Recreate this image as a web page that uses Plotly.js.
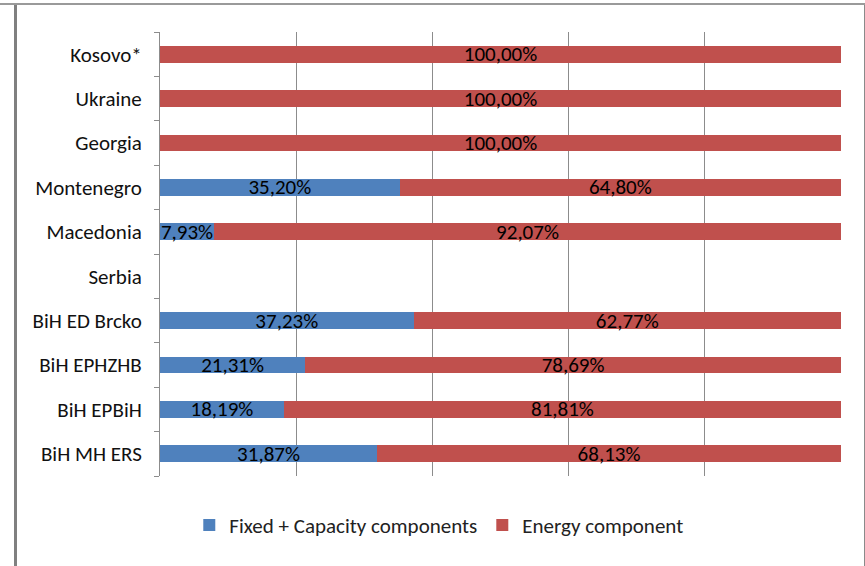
<!DOCTYPE html>
<html>
<head>
<meta charset="utf-8">
<script src="https://cdn.plot.ly/plotly-3.0.1.min.js"></script>
<style>
  html, body { margin: 0; padding: 0; background: #fff; }
  #wrap { position: relative; width: 865px; height: 566px; overflow: hidden; }
  #chart { width: 865px; height: 566px; }
  #frame { position: absolute; left: 14px; top: 5px; width: 847px; height: 600px;
           border-left: 3px solid #808080; border-right: 2px solid #8a8a8a;
           pointer-events: none; }
  #topline { position: absolute; left: 0; top: 3px; width: 865px; height: 2px; background: #9a9a9a; }
</style>
</head>
<body>
<div id="wrap">
  <div id="chart"></div>
  <div id="frame"></div>
  <div id="topline"></div>
</div>
<script>
// Categories (bottom to top)
var categories = ["BiH MH ERS", "BiH EPBiH", "BiH EPHZHB", "BiH ED Brcko", "Serbia",
                  "Macedonia", "Montenegro", "Georgia", "Ukraine", "Kosovo*"];
// Fixed + Capacity components (%)
var fixedValues = [31.87, 18.19, 21.31, 37.23, null, 7.93, 35.20, 0, 0, 0];
// Energy component (%)
var energyValues = [68.13, 81.81, 78.69, 62.77, null, 92.07, 64.80, 100, 100, 100];
var seriesNames = ["Fixed + Capacity components", "Energy component"];

function labels(vals) {
  return vals.map(function (v) {
    return (v === null || v === 0) ? "" : v.toFixed(2).replace(".", ",") + "%";
  });
}

var font = "Carlito, Lato, 'Open Sans', sans-serif";

var common = {
  type: "bar",
  orientation: "h",
  y: categories,
  textposition: "inside",
  insidetextanchor: "middle",
  constraintext: "none",
  textfont: { family: font, size: 21, color: "#000" },
  hoverinfo: "none",
  cliponaxis: false
};

var t1 = Object.assign({}, common, {
  name: seriesNames[0], x: fixedValues, text: labels(fixedValues),
  marker: { color: "#4F81BD" }
});
var t2 = Object.assign({}, common, {
  name: seriesNames[1], x: energyValues, text: labels(energyValues),
  marker: { color: "#C0504D" }
});

var layout = {
  width: 865, height: 566,
  margin: { l: 160, r: 24, t: 32, b: 90 },
  barmode: "stack",
  bargap: 0.62,
  separators: ",.",
  paper_bgcolor: "#fff",
  plot_bgcolor: "#fff",
  showlegend: true,
  legend: {
    orientation: "h", x: 0.043, xanchor: "left", y: -0.065, yanchor: "top",
    font: { family: font, size: 21, color: "#222" },
    traceorder: "normal", itemwidth: 30
  },
  xaxis: {
    range: [0, 100], dtick: 20, showgrid: true, gridcolor: "#8c8c8c", gridwidth: 1,
    showticklabels: false, zeroline: false, showline: false, ticks: "", fixedrange: true
  },
  yaxis: {
    type: "category", categoryorder: "array", categoryarray: categories,
    showline: true, linecolor: "#8c8c8c", linewidth: 1,
    ticks: "outside", tickson: "boundaries", ticklen: 5, tickcolor: "#8c8c8c",
    tickfont: { family: font, size: 21, color: "#111" },
    ticklabelstandoff: 13,
    showgrid: false, zeroline: false, fixedrange: true
  },
  font: { family: font }
};

Plotly.newPlot("chart", [t1, t2], layout, { displayModeBar: false, staticPlot: true });
</script>
</body>
</html>
